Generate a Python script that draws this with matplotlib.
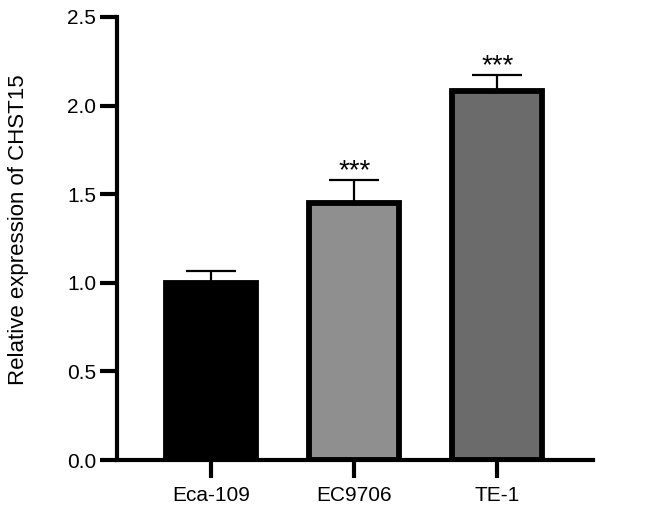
import matplotlib
matplotlib.use('Agg')
import matplotlib.pyplot as plt

# cell lines and relative CHST15 expression (mean, SD)
cells = ["Eca-109", "EC9706", "TE-1"]
means = [1.0, 1.45, 2.08]
errs = [0.065, 0.13, 0.09]
stars = ["", "***", "***"]
colors = ["#000000", "#8f8f8f", "#6b6b6b"]

plt.rcParams['font.family'] = ['Liberation Sans', 'DejaVu Sans']

fig = plt.figure(figsize=(6.46, 5.14), dpi=100)
ax = fig.add_axes([0.181, 0.105, 0.737, 0.862])

x = list(range(len(cells)))
ax.bar(x, means, width=0.63, color=colors, edgecolor="black", linewidth=4.2, zorder=2)
ax.errorbar(x, means, yerr=[[0] * len(errs), errs], fmt="none", ecolor="black",
            elinewidth=1.6, capsize=18, capthick=1.6, zorder=1)

for xi, m, e, s in zip(x, means, errs, stars):
    if s:
        ax.text(xi, m + e + 0.012, s, ha="center", va="baseline", fontsize=20)

ax.set_xlim(-0.66, 2.67)
ax.set_ylim(0, 2.5)
ax.set_yticks([0.0, 0.5, 1.0, 1.5, 2.0, 2.5])
ax.set_yticklabels(["0.0", "0.5", "1.0", "1.5", "2.0", "2.5"])
ax.set_xticks(x)
ax.set_xticklabels(cells)
ax.set_ylabel("Relative expression of CHST15", fontsize=16)
ax.yaxis.set_label_coords(-0.185, 0.519)

for side in ["top", "right"]:
    ax.spines[side].set_visible(False)
for side in ["left", "bottom"]:
    ax.spines[side].set_linewidth(3)
ax.tick_params(axis="y", length=12, width=3, labelsize=15, pad=3)
ax.tick_params(axis="x", length=13, width=3, labelsize=15, pad=6)

fig.savefig("out.png", dpi=100)
